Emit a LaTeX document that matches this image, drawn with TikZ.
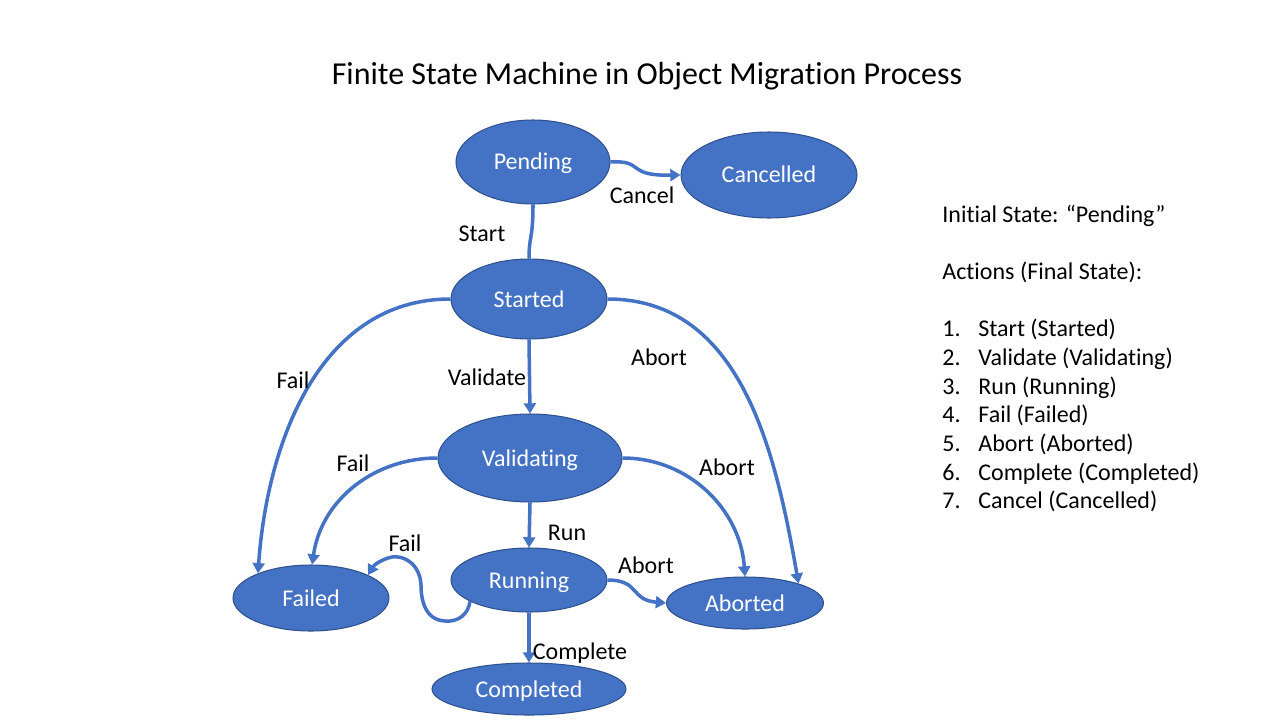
\documentclass[tikz,border=0pt]{standalone}
\usepackage{fontspec}
\setmainfont[Ligatures=NoCommon]{Carlito}
\usetikzlibrary{arrows.meta, shapes.geometric}

\definecolor{stfill}{HTML}{4472C4}
\definecolor{stline}{HTML}{2F528F}

\tikzset{
  state/.style={ellipse, draw=stline, line width=0.6pt, fill=stfill, text=white,
                inner sep=0pt, text height=11.5pt, text depth=2.4pt,
                font=\fontsize{13.66}{16.4}\selectfont},
  trans/.style={draw=stfill, line width=2pt, -{Triangle[length=5.8pt,width=6.8pt]}},
  plainline/.style={draw=stfill, line width=2pt},
  lbl/.style={inner sep=0pt, font=\fontsize{13.66}{16.4}\selectfont}
}

\begin{document}
\begin{tikzpicture}[x=0.02cm, y=-0.02cm]
    \useasboundingbox (0,0) rectangle (1280,720);
    \node[lbl, font=\fontsize{18.2}{22}\selectfont] (title) at (647,76)
        {Finite State Machine in Object Migration Process};

    % states
    \node[state, minimum width=3.08cm, minimum height=1.68cm] (pend) at (533,162) {Pending};
    \node[state, minimum width=3.52cm, minimum height=1.72cm] (canc) at (769,175) {Cancelled};
    \node[state, minimum width=3.12cm, minimum height=1.60cm] (strt) at (529,299) {Started};
    \node[state, minimum width=3.68cm, minimum height=1.76cm] (vald) at (530,458) {Validating};
    \node[state, minimum width=3.12cm, minimum height=1.28cm] (runn) at (529,580) {Running};
    \node[state, minimum width=3.12cm, minimum height=1.32cm] (fail) at (311,598) {Failed};
    \node[state, minimum width=3.14cm, minimum height=1.04cm] (abrt) at (745,603) {Aborted};
    \node[state, minimum width=3.88cm, minimum height=1.04cm] (cmpl) at (529,689) {Completed};

    % transitions
    \draw[trans] (pend.east) .. controls (645,160) and (625,176) .. (canc.west);
    \draw[plainline] (pend.south) .. controls (533,240) and (529,235) .. (strt.north);
    \draw[trans] (strt.south) -- (vald.north);
    \draw[trans] (strt.west) to[out=180, in=86] (fail.155);
    \draw[trans] (strt.east) to[out=0, in=100] (abrt.20);
    \draw[trans] (vald.west) to[out=180, in=82] (fail.88);
    \draw[trans] (vald.east) to[out=0, in=94] (abrt.north);
    \draw[trans] (vald.south) -- (runn.north);
    \draw[trans] (runn.200) .. controls (468,615) and (458,622) .. (445,621)
                            .. controls (425,620) and (421,600) .. (421,585)
                            .. controls (420,565) and (405,555) .. (392,557)
                            .. controls (382,559) and (374,565) .. (fail.22);
    \draw[trans] (runn.east) .. controls (640,580) and (630,600) .. (abrt.west);
    \draw[trans] (runn.south) -- (cmpl.north);

    % labels
    \node[lbl] (lcanc) at (642,195) {Cancel};
    \node[lbl] (lstrt) at (482,234) {Start};
    \node[lbl] (lvald) at (487,377) {Validate};
    \node[lbl] (lfail1) at (293,380) {Fail};
    \node[lbl] (labrt1) at (659,357) {Abort};
    \node[lbl] (lfail2) at (353,463) {Fail};
    \node[lbl] (labrt2) at (727,467) {Abort};
    \node[lbl] (lrun) at (567,533) {Run};
    \node[lbl] (lfail3) at (405,543) {Fail};
    \node[lbl] (labrt3) at (646,565) {Abort};
    \node[lbl] (lcmpl) at (580,653) {Complete};

    % legend
    \node[lbl, anchor=base west] (init) at (942,222) {Initial State: “Pending”};
    \node[lbl, anchor=base west] (acts) at (942,279) {Actions (Final State):};
    \foreach \txt [count=\i] in {Start (Started), Validate (Validating), Run (Running),
                                 Fail (Failed), Abort (Aborted), Complete (Completed),
                                 Cancel (Cancelled)}
    {
        \node[lbl, anchor=base west] (num\i) at (942,{308.3+28.67*\i}) {\i.};
        \node[lbl, anchor=base west] (act\i) at (978,{308.3+28.67*\i}) {\txt};
    }
\end{tikzpicture}
\end{document}
